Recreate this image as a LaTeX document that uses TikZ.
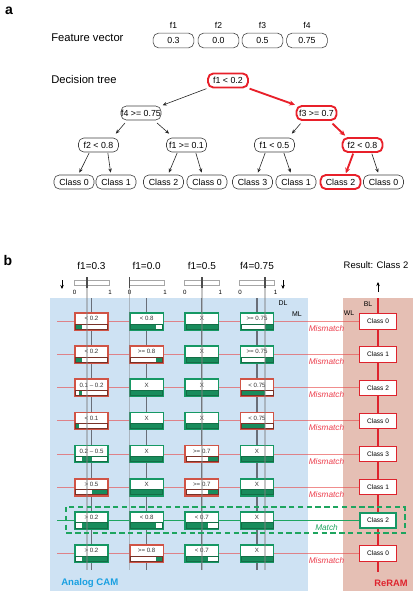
\documentclass[tikz,border=0pt]{standalone}
\usepackage{fontspec}
\setmainfont{Liberation Sans}
\usetikzlibrary{arrows.meta,calc}
\definecolor{treered}{RGB}{232,32,42}
\definecolor{cambg}{RGB}{206,226,243}
\definecolor{rerambg}{RGB}{229,191,180}
\definecolor{cellg}{RGB}{22,152,100}
\definecolor{cellr}{RGB}{208,84,70}
\definecolor{barg}{RGB}{20,110,70}
\definecolor{barr}{RGB}{120,50,40}
\definecolor{barfill}{RGB}{24,140,92}
\definecolor{mlred}{RGB}{232,80,80}
\definecolor{mlgreen}{RGB}{30,165,95}
\definecolor{misred}{RGB}{236,60,75}
\definecolor{camblue}{RGB}{25,160,225}
\definecolor{reramred}{RGB}{222,35,45}
\newcommand{\fsz}[1]{\fontsize{#1}{#1}\selectfont}
\newcommand{\camcell}[6]{%
  \pgfmathsetmacro{\cx}{91.5+55.17*(#2-1)}%
  \pgfmathsetmacro{\cy}{321.5+33.14*(#1-1)}%
  \node[cellbox, draw=cell#4] (cell-#1-#2) at (\cx,\cy) {};
  \fill[white] ({\cx-16},{\cy+2.4}) rectangle ({\cx+16},{\cy+7.6});
  \fill[barfill] ({\cx-16+32*#5},{\cy+2.4}) rectangle ({\cx-16+32*#6},{\cy+7.6});
  \draw[bar#4, line width=0.5pt] ({\cx-16},{\cy+2.4}) rectangle ({\cx+16},{\cy+7.6});
  \node[celltext] (lab-#1-#2) at (\cx,{\cy-2.8}) {#3};
}
\begin{document}
\begin{tikzpicture}[x=0.75pt,y=-0.75pt,
  tnode/.style={draw=black!75, line width=0.45pt, rounded corners=4pt, minimum width=30pt, minimum height=10.5pt, inner sep=0pt, fill=white, font=\fsz{6.6}},
  tred/.style={tnode, draw=treered, line width=1.4pt},
  fnode/.style={tnode, minimum width=30.5pt, minimum height=11pt},
  tarr/.style={-{Stealth[length=3.2pt,width=2.6pt]}, line width=0.45pt, black!85},
  tarrred/.style={-{Stealth[length=4.2pt,width=3.8pt]}, line width=1.4pt, treered},
  cellbox/.style={rectangle, minimum width=25pt, minimum height=12.75pt, line width=1.2pt, fill=white, inner sep=0pt},
  celltext/.style={font=\fsz{4.6}, text=black!80, inner sep=0pt},
  rcell/.style={draw=reramred, line width=0.8pt, fill=white, minimum width=27.5pt, minimum height=11.6pt, inner sep=0pt, font=\fsz{4.9}},
  scalebar/.style={draw=gray!70, line width=0.4pt, fill=white, minimum width=26.25pt, minimum height=3.75pt, inner sep=0pt},
  dline/.style={draw={rgb,255:red,105;green,110;blue,120}, line width=0.8pt},
  vline/.style={draw=gray, opacity=0.45, line width=0.9pt},
  vtick/.style={draw=black!70, line width=0.8pt},
  mlr/.style={draw=mlred, opacity=0.65, line width=0.8pt},
  mlg/.style={draw=mlgreen, line width=0.8pt},
  mis/.style={font=\itshape\fsz{6.2}, text=misred, inner sep=0pt},
  smarr/.style={-{Stealth[length=3pt,width=2.6pt]}, line width=0.6pt, black},
  small/.style={font=\fsz{5.2}, inner sep=0pt},
  tick/.style={font=\fsz{4.6}, inner sep=0pt}
]
\useasboundingbox (0,0) rectangle (413,591);

% ---------------- part a ----------------
\node[font=\bfseries\fsz{10.5}] (la) at (9,11) {a};
\node[anchor=west, font=\fsz{8.4}, inner sep=0pt] (fv) at (51,38) {Feature vector};
\foreach \i/\x/\v in {1/173.5/0.3,2/218.5/0.0,3/262.5/0.5,4/307/0.75}{
  \node[font=\fsz{6.4}, inner sep=0pt] (fl\i) at (\x,25) {f\i};
  \node[fnode] (fb\i) at (\x,40.5) {\v};
}
\node[anchor=west, font=\fsz{8.4}, inner sep=0pt] (dt) at (51,80) {Decision tree};

\node[tred] (r) at (228,80.5) {f1 < 0.2};
\node[tnode] (n1) at (141,113) {f4 >= 0.75};
\node[tred] (n2) at (316.5,113) {f3 >= 0.7};
\node[tnode] (n11) at (98.5,145) {f2 < 0.8};
\node[tnode] (n12) at (186.5,145) {f1 >= 0.1};
\node[tnode] (n21) at (274.5,145) {f1 < 0.5};
\node[tred] (n22) at (362.5,145) {f2 < 0.8};
\node[tnode] (l1) at (74,182) {Class 0};
\node[tnode] (l2) at (116,182) {Class 1};
\node[tnode] (l3) at (163.5,182) {Class 2};
\node[tnode] (l4) at (207,182) {Class 0};
\node[tnode] (l5) at (252.5,182) {Class 3};
\node[tnode] (l6) at (296,182) {Class 1};
\node[tred] (l7) at (340.5,182) {Class 2};
\node[tnode] (l8) at (383.5,182) {Class 0};

\draw[tarr, shorten <=0.5pt, shorten >=1pt] (r.south west) -- (n1.north east);
\draw[tarrred, shorten <=0.5pt, shorten >=0.5pt] (r.south east) -- (n2.north west);
\draw[tarr] ([xshift=-12pt,yshift=-2pt]n1.south) -- ([xshift=13pt,yshift=3pt]n11.north);
\draw[tarr] ([xshift=12pt,yshift=-2pt]n1.south) -- ([xshift=-13pt,yshift=3pt]n12.north);
\draw[tarr] ([xshift=-12pt,yshift=-2pt]n2.south) -- ([xshift=13pt,yshift=3pt]n21.north);
\draw[tarrred] ([xshift=12pt,yshift=-2pt]n2.south) -- ([xshift=-13pt,yshift=1pt]n22.north);
\draw[tarr] ([xshift=-7pt,yshift=-0.5pt]n11.south) -- ([xshift=4pt,yshift=1.5pt]l1.north);
\draw[tarr] ([xshift=7pt,yshift=-0.5pt]n11.south) -- ([xshift=-4pt,yshift=1.5pt]l2.north);
\draw[tarr] ([xshift=-7pt,yshift=-0.5pt]n12.south) -- ([xshift=4pt,yshift=1.5pt]l3.north);
\draw[tarr] ([xshift=7pt,yshift=-0.5pt]n12.south) -- ([xshift=-4pt,yshift=1.5pt]l4.north);
\draw[tarr] ([xshift=-7pt,yshift=-0.5pt]n21.south) -- ([xshift=4pt,yshift=1.5pt]l5.north);
\draw[tarr] ([xshift=7pt,yshift=-0.5pt]n21.south) -- ([xshift=-4pt,yshift=1.5pt]l6.north);
\draw[tarrred] ([xshift=-7pt,yshift=-0.5pt]n22.south) -- ([xshift=4pt,yshift=0.5pt]l7.north);
\draw[tarr] ([xshift=7pt,yshift=-0.5pt]n22.south) -- ([xshift=-4pt,yshift=1.5pt]l8.north);

% ---------------- part b ----------------
\node[font=\bfseries\fsz{10.5}] (lb) at (8,260) {b};
\fill[cambg] (50,298) rectangle (308,591);
\fill[rerambg] (343,298) rectangle (413,591);

\foreach \j/\t/\v in {1/f1=0.3/87, 2/f1=0.0/129.5, 3/f1=0.5/202, 4/f4=0.75/265}{
  \pgfmathsetmacro{\colx}{91.5+55.17*(\j-1)}
  \node[font=\fsz{7.5}, inner sep=0pt] (hd\j) at (\colx,266) {\t};
  \node[scalebar] (sb\j) at (\colx,282.5) {};
  \node[tick] (z\j) at ({\colx-17},292) {0};
  \node[tick] (o\j) at ({\colx+18.5},292) {1};
  \coordinate (dlt\j) at (\colx,298);
  \coordinate (dlb\j) at (\colx,570);
  \draw[dline] (dlt\j) -- (dlb\j);
  \coordinate (vt\j) at (\v,277);
  \coordinate (vm\j) at (\v,288);
  \draw[vtick] (vt\j) -- (vm\j);
}
\node[font=\fsz{7.1}, inner sep=0pt] (res) at (376,265) {Result: Class 2};

\coordinate (da1) at (62,280); \coordinate (da2) at (62,289);
\draw[smarr] (da1) -- (da2);
\coordinate (db1) at (283,280); \coordinate (db2) at (283,289);
\draw[smarr] (db1) -- (db2);
\coordinate (ua1) at (378,292); \coordinate (ua2) at (378,282);
\draw[smarr] (ua1) -- (ua2);

\node[small] (dl) at (283,303) {DL};
\node[small] (ml) at (297,314) {ML};
\node[small] (bl) at (368,304) {BL};
\node[small] (wl) at (349,313) {WL};

\coordinate (blt) at (378,298); \coordinate (blb) at (378,572);
\draw[reramred, line width=1.5pt] (blt) -- (blb);

\foreach \i/\lab in {1/Class 0,2/Class 1,3/Class 2,4/Class 0,5/Class 3,6/Class 1,8/Class 0}{
  \pgfmathsetmacro{\ry}{321.5+33.14*(\i-1)}
  \node[rcell] (rc\i) at (378,\ry) {\lab};
  \coordinate (mls\i) at (57,\ry);
  \draw[mlr] (mls\i) -- (rc\i.west);
  \node[mis] (mm\i) at (326.5,{\ry+7}) {Mismatch};
}
\pgfmathsetmacro{\rys}{321.5+33.14*6}
\node[rcell, draw=cellg, line width=1.5pt] (rc7) at (378,\rys) {Class 2};
\coordinate (mls7) at (57,\rys);
\draw[mlg] (mls7) -- (rc7.west);
\node[mis, text=mlgreen] (mm7) at (326.5,{\rys+7}) {Match};

% CAM cells
\camcell{1}{1}{< 0.2}{r}{0}{0.2}
\camcell{1}{2}{< 0.8}{g}{0}{0.8}
\camcell{1}{3}{X}{g}{0}{1}
\camcell{1}{4}{>= 0.75}{g}{0.75}{1}
\camcell{2}{1}{< 0.2}{r}{0}{0.2}
\camcell{2}{2}{>= 0.8}{r}{0.8}{1}
\camcell{2}{3}{X}{g}{0}{1}
\camcell{2}{4}{>= 0.75}{g}{0.75}{1}
\camcell{3}{1}{0.1 – 0.2}{r}{0.1}{0.2}
\camcell{3}{2}{X}{g}{0}{1}
\camcell{3}{3}{X}{g}{0}{1}
\camcell{3}{4}{< 0.75}{r}{0}{0.75}
\camcell{4}{1}{< 0.1}{r}{0}{0.1}
\camcell{4}{2}{X}{g}{0}{1}
\camcell{4}{3}{X}{g}{0}{1}
\camcell{4}{4}{< 0.75}{r}{0}{0.75}
\camcell{5}{1}{0.2 – 0.5}{g}{0.2}{0.5}
\camcell{5}{2}{X}{g}{0}{1}
\camcell{5}{3}{>= 0.7}{r}{0.7}{1}
\camcell{5}{4}{X}{g}{0}{1}
\camcell{6}{1}{> 0.5}{r}{0.5}{1}
\camcell{6}{2}{X}{g}{0}{1}
\camcell{6}{3}{>= 0.7}{r}{0.7}{1}
\camcell{6}{4}{X}{g}{0}{1}
\camcell{7}{1}{> 0.2}{g}{0.2}{1}
\camcell{7}{2}{< 0.8}{g}{0}{0.8}
\camcell{7}{3}{< 0.7}{g}{0}{0.7}
\camcell{7}{4}{X}{g}{0}{1}
\camcell{8}{1}{> 0.2}{g}{0.2}{1}
\camcell{8}{2}{>= 0.8}{r}{0.8}{1}
\camcell{8}{3}{< 0.7}{g}{0}{0.7}
\camcell{8}{4}{X}{g}{0}{1}

% value lines over the cells
\foreach \j/\v in {1/87, 2/129.5, 3/202, 4/265}{
  \coordinate (vb\j) at (\v,570);
  \draw[vline] (vm\j) -- (vb\j);
}

\draw[mlgreen, line width=0.9pt, dash pattern=on 4pt off 2.6pt] (66,507) rectangle (405,533);

\node[anchor=west, font=\bfseries\fsz{7.2}, text=camblue, inner sep=0pt] (acam) at (61,583) {Analog CAM};
\node[font=\bfseries\fsz{7}, text=reramred, inner sep=0pt] (rram) at (391,583) {ReRAM};
\end{tikzpicture}
\end{document}
